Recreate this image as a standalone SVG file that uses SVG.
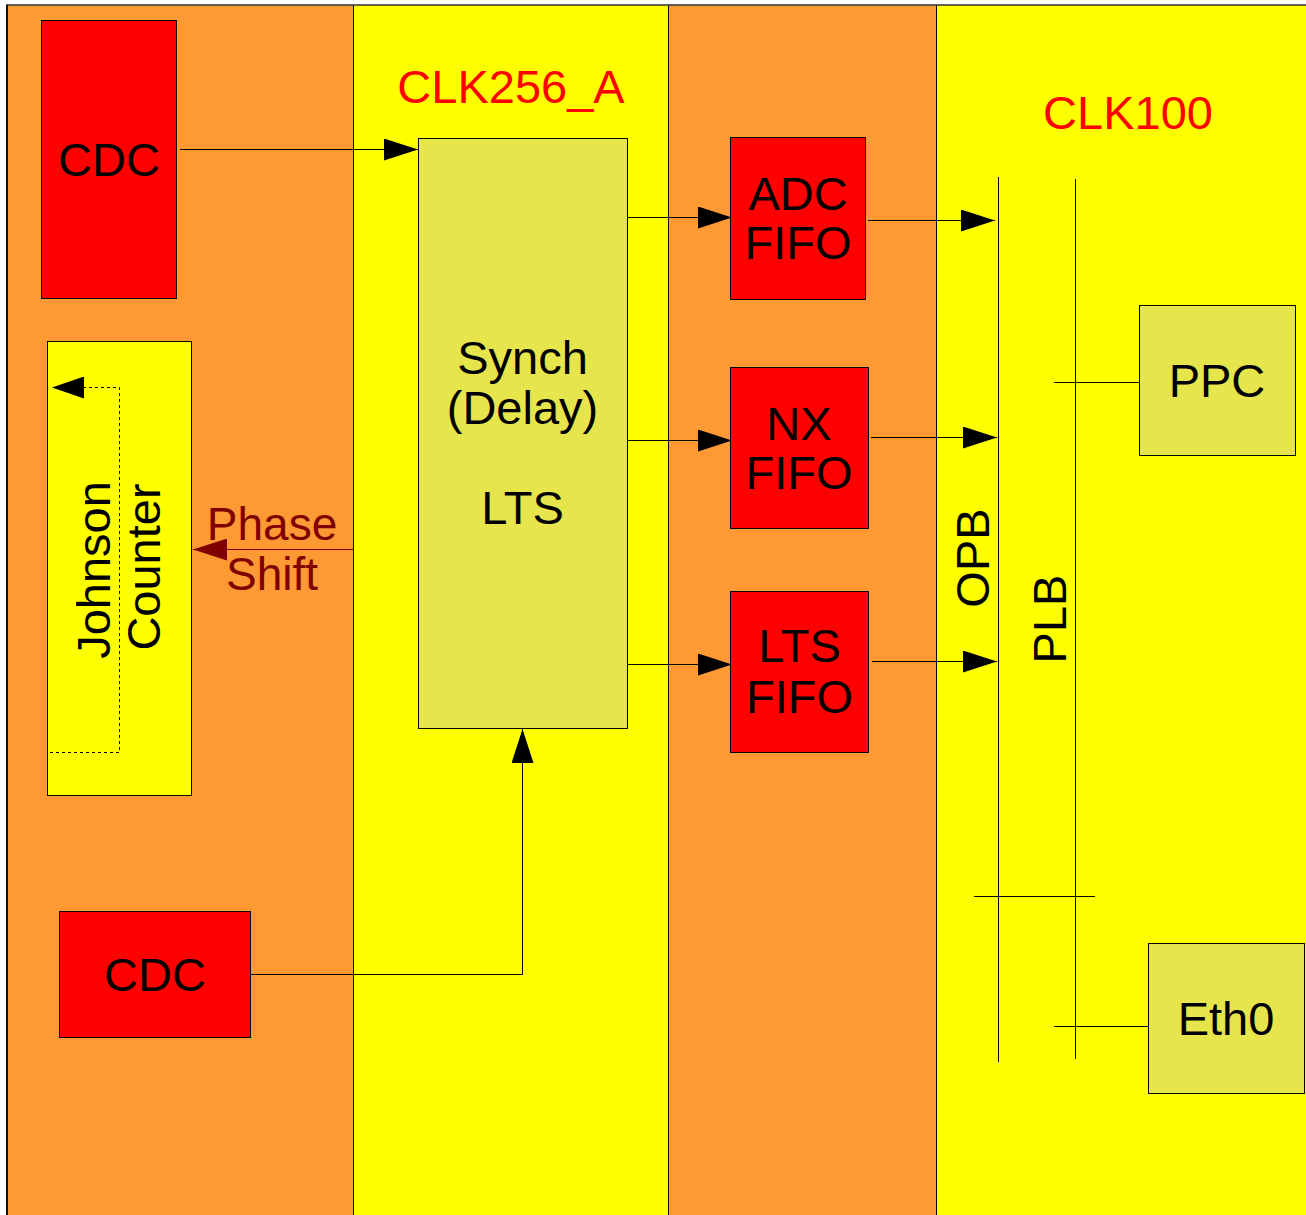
<svg xmlns="http://www.w3.org/2000/svg" width="1306" height="1215" viewBox="0 0 1306 1215">
<style>
  .lbl { font-family: "Liberation Sans", Arial, sans-serif; font-size: 47px; fill: #000; text-anchor: middle; }
  .clk { font-family: "Liberation Sans", Arial, sans-serif; font-size: 47px; fill: #ff0000; text-anchor: middle; }
  .ps { font-family: "Liberation Sans", Arial, sans-serif; font-size: 46px; fill: #800000; text-anchor: middle; }
  .red { fill: #ff0000; stroke: #000; stroke-width: 1; }
  .olive { fill: #e6e64c; stroke: #000; stroke-width: 1; }
  .yel { fill: #ffff00; stroke: #000; stroke-width: 1; }
  .wire { fill: none; stroke: #000; stroke-width: 1; }
  .bus { fill: none; stroke: #000; stroke-width: 1; }
</style>
<defs>
  <marker id="ah" markerUnits="userSpaceOnUse" markerWidth="34" markerHeight="22" refX="34" refY="11" orient="auto">
    <path d="M0,0 L34,11 L0,22 z" fill="#000"/>
  </marker>
  <marker id="ahr" markerUnits="userSpaceOnUse" markerWidth="34" markerHeight="22" refX="34" refY="11" orient="auto">
    <path d="M0,0 L34,11 L0,22 z" fill="#800000"/>
  </marker>
  <marker id="ahs" markerUnits="userSpaceOnUse" markerWidth="32" markerHeight="22" refX="32" refY="11" orient="auto">
    <path d="M0,0 L32,11 L0,22 z" fill="#000"/>
  </marker>
</defs>

<g id="background">
  <rect x="7" y="5" width="346" height="1210" fill="#ff9933"/>
  <rect x="353" y="5" width="315" height="1210" fill="#ffff00"/>
  <rect x="668" y="5" width="268" height="1210" fill="#ff9933"/>
  <rect x="936" y="5" width="370" height="1210" fill="#ffff00"/>
  <line x1="353.5" y1="5" x2="353.5" y2="1215" stroke="#000" stroke-width="1"/>
  <line x1="668.5" y1="5" x2="668.5" y2="1215" stroke="#000" stroke-width="1"/>
  <line x1="936.5" y1="5" x2="936.5" y2="1215" stroke="#000" stroke-width="1"/>
  <line x1="6" y1="5" x2="1306" y2="5" stroke="#333" stroke-width="1.5"/>
  <line x1="7" y1="5" x2="7" y2="1215" stroke="#111" stroke-width="2"/>
  <text class="clk" x="511" y="103">CLK256_A</text>
  <text class="clk" x="1128" y="129">CLK100</text>
</g>

<g id="connectors">
  <line class="wire" x1="180" y1="149.5" x2="418" y2="149.5" marker-end="url(#ah)"/>
  <polyline class="wire" points="251,974.5 522.5,974.5 522.5,729" marker-end="url(#ah)"/>
  <line class="wire" x1="627" y1="217.5" x2="732" y2="217.5" marker-end="url(#ah)"/>
  <line class="wire" x1="627" y1="440.5" x2="732" y2="440.5" marker-end="url(#ah)"/>
  <line class="wire" x1="627" y1="664.5" x2="732" y2="664.5" marker-end="url(#ah)"/>
  <line class="wire" x1="868" y1="220.5" x2="995" y2="220.5" marker-end="url(#ah)"/>
  <line class="wire" x1="871" y1="437.5" x2="997" y2="437.5" marker-end="url(#ah)"/>
  <line class="wire" x1="872" y1="661.5" x2="997" y2="661.5" marker-end="url(#ah)"/>
  <line x1="353" y1="549.5" x2="193" y2="549.5" stroke="#800000" stroke-width="1" marker-end="url(#ahr)"/>
  <line class="bus" x1="1054" y1="382.5" x2="1139" y2="382.5"/>
  <line class="bus" x1="1054" y1="1026.5" x2="1148" y2="1026.5"/>
  <line class="bus" x1="974" y1="896.5" x2="1095" y2="896.5"/>
</g>

<g id="opb">
  <line class="bus" x1="998.5" y1="177" x2="998.5" y2="1062"/>
  <text class="lbl" transform="translate(989,558) rotate(-90)">OPB</text>
</g>
<g id="plb">
  <line class="bus" x1="1075.5" y1="179" x2="1075.5" y2="1059"/>
  <text class="lbl" transform="translate(1066,619) rotate(-90)">PLB</text>
</g>

<g id="cdc-top">
  <rect class="red" x="41.5" y="20.5" width="135" height="278"/>
  <text class="lbl" x="109" y="176">CDC</text>
</g>

<g id="johnson-counter">
  <rect class="yel" x="47.5" y="341.5" width="144" height="454"/>
  <polyline points="50,752.5 119.5,752.5 119.5,387.5 52,387.5" fill="none" stroke="#000" stroke-width="1" stroke-dasharray="3,3" marker-end="url(#ahs)"/>
  <text class="lbl" transform="translate(110,570) rotate(-90)">Johnson</text>
  <text class="lbl" transform="translate(160,567) rotate(-90)">Counter</text>
</g>

<g id="phase-shift">
  <text class="ps" x="272" y="540">Phase</text>
  <text class="ps" x="272" y="590">Shift</text>
</g>

<g id="cdc-bottom">
  <rect class="red" x="59.5" y="911.5" width="191" height="126"/>
  <text class="lbl" x="155" y="991">CDC</text>
</g>

<g id="synch">
  <rect class="olive" x="418.5" y="138.5" width="209" height="590"/>
  <text class="lbl" x="522.5" y="374">Synch</text>
  <text class="lbl" x="522.5" y="424">(Delay)</text>
  <text class="lbl" x="522.5" y="524">LTS</text>
</g>

<g id="adc-fifo">
  <rect class="red" x="730.5" y="137.5" width="135" height="162"/>
  <text class="lbl" x="798" y="210">ADC</text>
  <text class="lbl" x="798" y="259">FIFO</text>
</g>

<g id="nx-fifo">
  <rect class="red" x="730.5" y="367.5" width="138" height="161"/>
  <text class="lbl" x="799" y="440">NX</text>
  <text class="lbl" x="799" y="489">FIFO</text>
</g>

<g id="lts-fifo">
  <rect class="red" x="730.5" y="591.5" width="138" height="161"/>
  <text class="lbl" x="799.5" y="662">LTS</text>
  <text class="lbl" x="799.5" y="713">FIFO</text>
</g>

<g id="ppc">
  <rect class="olive" x="1139.5" y="305.5" width="156" height="150"/>
  <text class="lbl" x="1217" y="397">PPC</text>
</g>

<g id="eth0">
  <rect class="olive" x="1148.5" y="943.5" width="156" height="150"/>
  <text class="lbl" x="1226" y="1035">Eth0</text>
</g>
</svg>
